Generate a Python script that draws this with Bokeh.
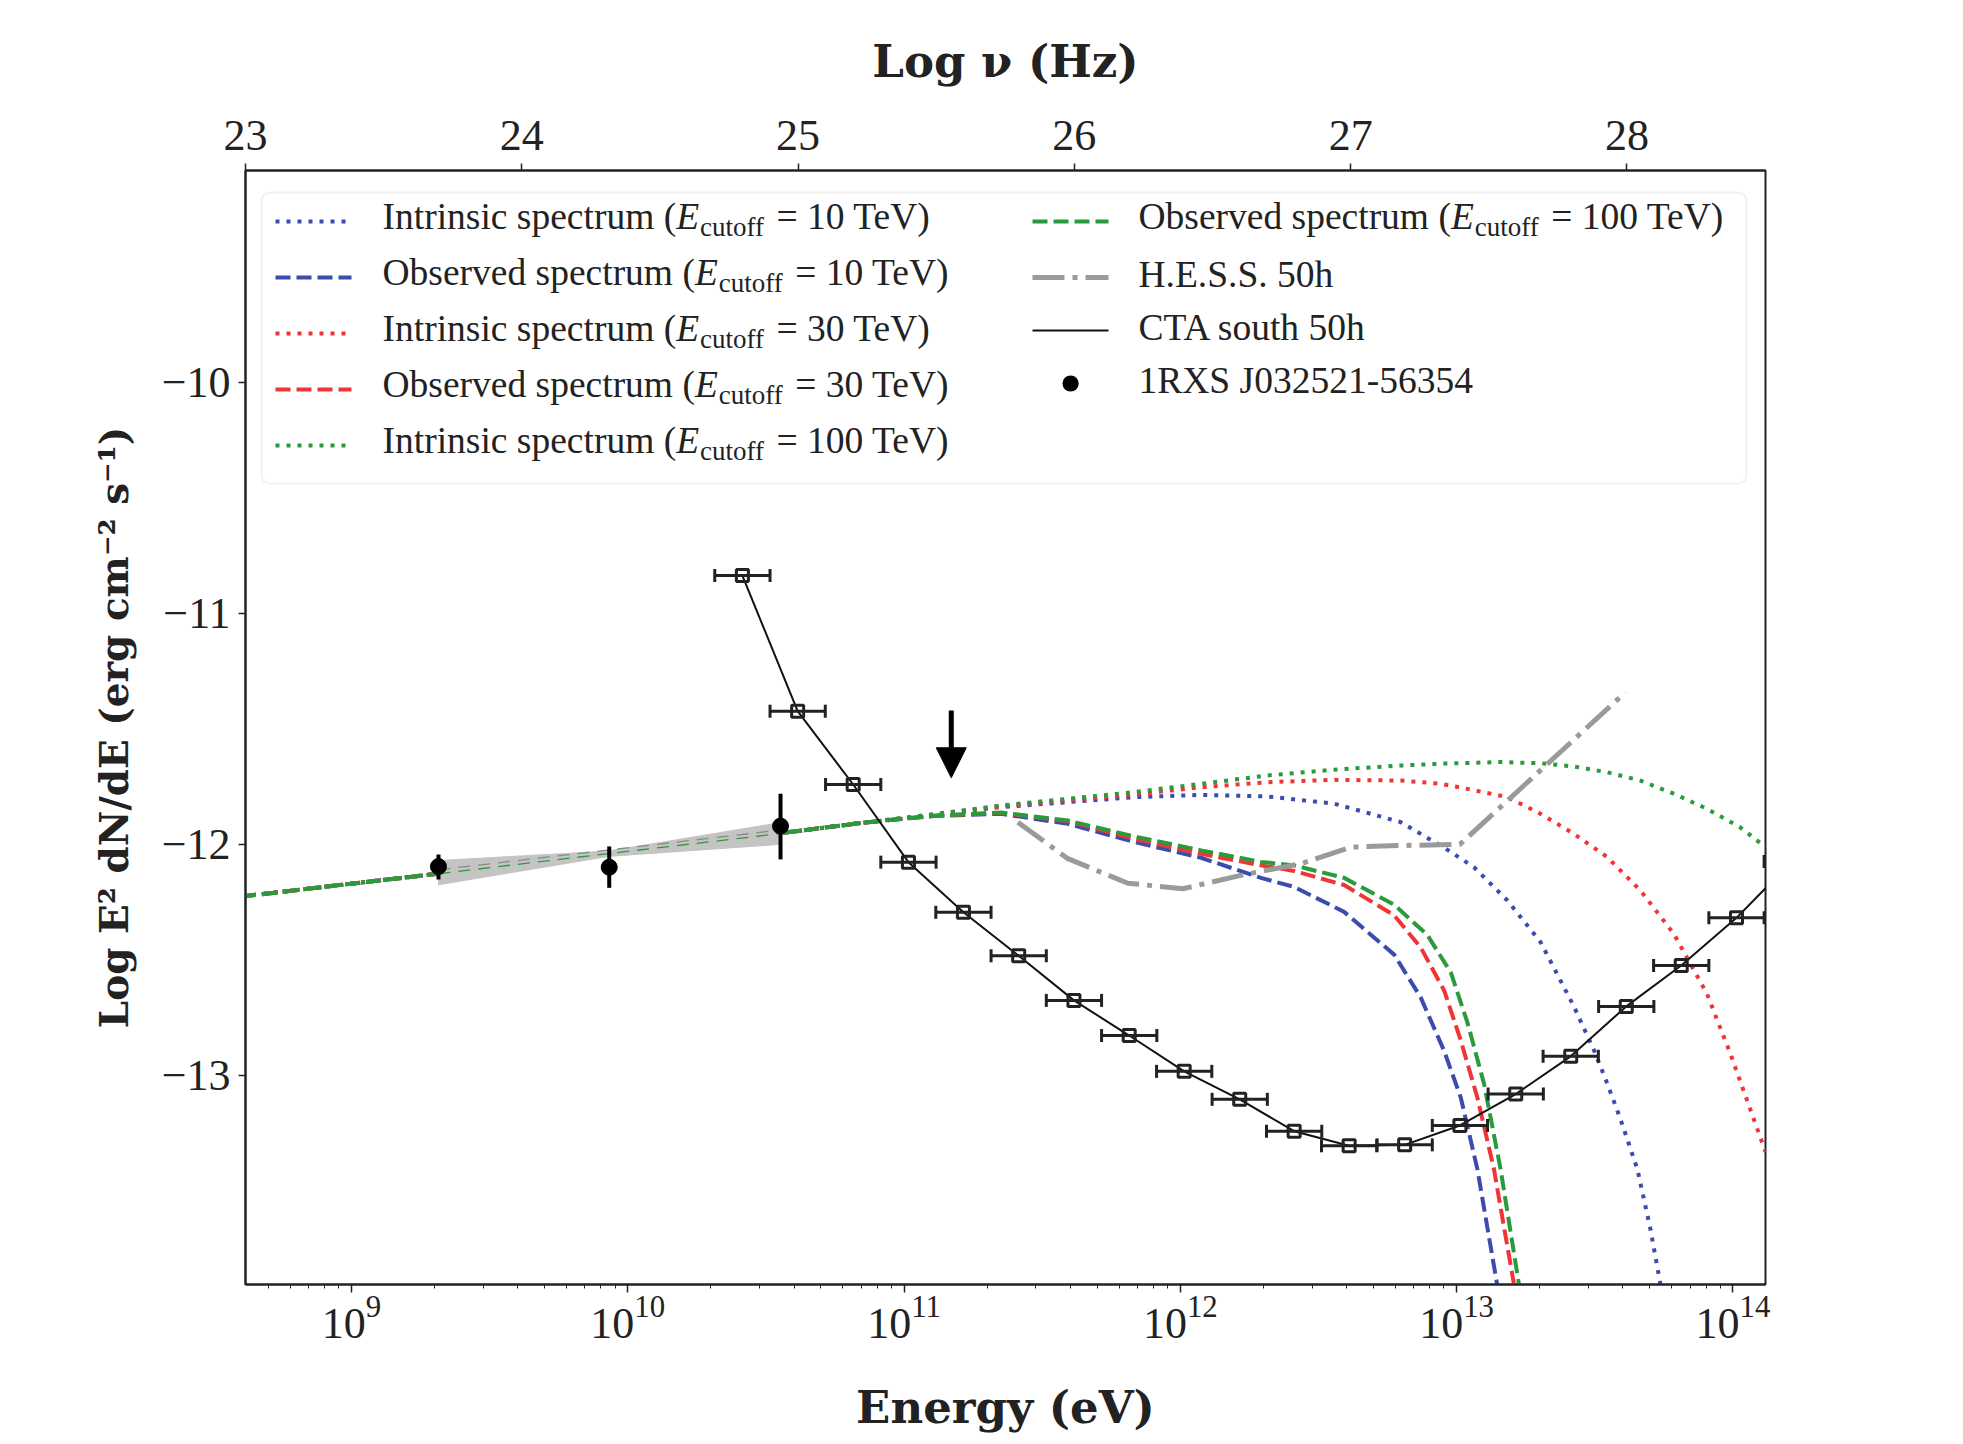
import math

from bokeh.embed import file_html
from bokeh.models import (Arrow, BoxAnnotation, ColumnDataSource, CustomJSTickFormatter,
                          FixedTicker, Label, LinearAxis, LinearScale, NormalHead, Range1d,
                          TeeHead, Whisker)
from bokeh.plotting import figure
from bokeh.resources import INLINE

# ---------------------------------------------------------------------------
# Data: x values are log10(E / eV), y values are log10(E^2 dN/dE / erg cm^-2 s^-1)
# ---------------------------------------------------------------------------
LOG_H_EV_S = math.log10(4.135667696e-15)      # log nu = log E - log h
NU_MIN = 23.0
LOGE_MIN, LOGE_MAX = NU_MIN + LOG_H_EV_S, 14.118
Y_MIN, Y_MAX = -13.904, -9.085

# low-energy part shared by all six model spectra
base_logE = [8.6, 9.0, 9.315, 9.93, 10.47, 10.55, 10.87]
base_val = [-12.226, -12.170, -12.127, -12.040, -11.965, -11.952, -11.904]

# intrinsic spectra (high-energy part)
intr10_logE = [11.11, 11.35, 11.834, 12.075, 12.316, 12.557, 12.798, 12.961, 13.063, 13.184,
               13.304, 13.424, 13.497, 13.545, 13.593, 13.654, 13.702, 13.738, 13.76]
intr10_val = [-11.872, -11.839, -11.796, -11.786, -11.793, -11.824, -11.904, -12.019, -12.099,
              -12.243, -12.423, -12.700, -12.890, -13.034, -13.188, -13.404, -13.667, -13.906,
              -14.05]
intr30_logE = [11.11, 11.35, 11.834, 12.075, 12.316, 12.557, 12.798, 12.943, 13.039, 13.184,
               13.304, 13.424, 13.545, 13.665, 13.786, 13.906, 13.991, 14.118]
intr30_val = [-11.871, -11.836, -11.784, -11.753, -11.731, -11.721, -11.724, -11.738, -11.760,
              -11.796, -11.868, -11.954, -12.055, -12.199, -12.387, -12.646, -12.906, -13.330]
intr100_logE = [11.11, 11.35, 11.834, 12.075, 12.316, 12.557, 12.798, 12.943, 13.159, 13.304,
                13.424, 13.545, 13.665, 13.786, 13.906, 14.026, 14.118]
intr100_val = [-11.869, -11.832, -11.774, -11.738, -11.702, -11.677, -11.659, -11.651, -11.644,
               -11.649, -11.663, -11.688, -11.724, -11.781, -11.846, -11.926, -12.012]

# observed (EBL-absorbed) spectra (high-energy part)
obs10_logE = [11.11, 11.35, 11.593, 11.834, 12.075, 12.292, 12.412, 12.593, 12.774, 12.870,
              12.955, 13.015, 13.075, 13.147, 13.168]
obs10_val = [-11.877, -11.868, -11.911, -11.990, -12.058, -12.145, -12.184, -12.292, -12.477,
             -12.662, -12.894, -13.095, -13.404, -13.906, -14.05]
obs30_logE = [11.11, 11.35, 11.593, 11.834, 12.075, 12.292, 12.412, 12.593, 12.774, 12.870,
              12.955, 13.015, 13.075, 13.135, 13.208, 13.229]
obs30_val = [-11.876, -11.864, -11.900, -11.976, -12.041, -12.091, -12.115, -12.176, -12.307,
             -12.446, -12.632, -12.848, -13.095, -13.404, -13.906, -14.05]
obs100_logE = [11.11, 11.35, 11.593, 11.834, 12.075, 12.292, 12.412, 12.593, 12.774, 12.894,
               12.979, 13.039, 13.099, 13.159, 13.226, 13.245]
obs100_val = [-11.876, -11.862, -11.897, -11.966, -12.026, -12.076, -12.091, -12.145, -12.261,
              -12.392, -12.554, -12.770, -13.034, -13.404, -13.906, -14.05]

# H.E.S.S. 50 h sensitivity
hess_logE = [11.412, 11.593, 11.810, 12.009, 12.219, 12.436, 12.617, 12.798, 13.012, 13.611]
hess_val = [-11.904, -12.062, -12.168, -12.192, -12.134, -12.084, -12.012, -12.005, -12.000,
            -11.342]

# CTA south 50 h differential sensitivity (bin centres, half-width 0.1 dex)
cta_logE = [10.415, 10.615, 10.816, 11.016, 11.215, 11.415, 11.615, 11.815, 12.014, 12.215,
            12.412, 12.611, 12.812, 13.012, 13.214, 13.413, 13.614, 13.813, 14.013, 14.213]
cta_val = [-10.837, -11.424, -11.741, -12.077, -12.294, -12.482, -12.675, -12.827, -12.982,
           -13.103, -13.241, -13.304, -13.300, -13.216, -13.080, -12.917, -12.701, -12.524,
           -12.318, -12.074]
cta_half_bin = 0.1

# Fermi-LAT points of 1RXS J032521-56354
fermi_logE = [9.315, 9.933, 10.553]
fermi_val = [-12.096, -12.099, -11.921]
fermi_lo = [-12.152, -12.188, -12.065]
fermi_hi = [-12.044, -12.009, -11.781]

# Fermi-LAT butterfly and best-fit power law
bowtie_logE = [9.315, 9.93, 10.553]
bowtie_upper = [-12.070, -12.029, -11.906]
bowtie_lower = [-12.175, -12.052, -12.000]
fit_logE = [9.315, 10.553]
fit_val = [-12.110, -11.938]
model_thin_logE = [9.315, 9.93, 10.47, 10.553]
model_thin_val = [-12.127, -12.040, -11.965, -11.952]

# energy marker
arrow_logE = 11.171
arrow_from, arrow_to = -11.421, -11.712

nu_ticks = [23, 24, 25, 26, 27, 28]
y_ticks = [-13, -12, -11, -10]

# ---------------------------------------------------------------------------
BLUE, RED, GREEN = "#3b4cad", "#ef3535", "#2a9a3c"
GREY, INK = "#9a9a9a", "#222222"
DOT, DASH, DASHDOT = "4 7", "15 6", "32 8 5 8"
SERIF, BOLD_SERIF = "Liberation Serif", "DejaVu Serif"


def energy(logs):
    return [10 ** v for v in logs]


FRAME_LEFT, FRAME_RIGHT, FRAME_TOP, FRAME_BOTTOM = 245, 1765, 170, 1284
W, H = 1963, 1444

p = figure(width=W, height=H, x_axis_type="log",
           x_range=Range1d(10 ** LOGE_MIN, 10 ** LOGE_MAX), y_range=Range1d(Y_MIN, Y_MAX),
           output_backend="svg", toolbar_location=None,
           min_border_left=FRAME_LEFT, min_border_right=W - FRAME_RIGHT,
           min_border_top=FRAME_TOP, min_border_bottom=H - FRAME_BOTTOM,
           background_fill_color="white", border_fill_color="white")
p.grid.visible = False
p.outline_line_color = INK
p.outline_line_width = 2

# top axis: frequency, linear in log nu
p.extra_x_ranges = {"nu": Range1d(NU_MIN, LOGE_MAX - LOG_H_EV_S)}
p.extra_x_scales = {"nu": LinearScale()}
top = LinearAxis(x_range_name="nu", ticker=FixedTicker(ticks=nu_ticks), axis_label="Log ν (Hz)")
p.add_layout(top, "above")

bottom = p.below[0]
left = p.left[0]
bottom.axis_label = "Energy (eV)"
left.axis_label = "Log E² dN/dE (erg cm⁻² s⁻¹)"
left.ticker = FixedTicker(ticks=y_ticks)
left.formatter = CustomJSTickFormatter(
    code="return (tick < 0 ? '\\u2212' : '') + Math.abs(tick).toFixed(0);")

for ax in (bottom, left, top):
    ax.axis_line_color = INK
    ax.axis_line_width = 2
    ax.major_tick_line_color = INK
    ax.major_tick_line_width = 1.5
    ax.minor_tick_line_color = INK
    ax.major_tick_in = 0
    ax.minor_tick_in = 0
    ax.major_label_text_font = SERIF
    ax.major_label_text_font_size = "44px"
    ax.major_label_text_color = INK
    ax.axis_label_text_font = BOLD_SERIF
    ax.axis_label_text_font_style = "bold"
    ax.axis_label_text_color = INK
    ax.axis_label_text_font_size = "45px"

bottom.major_tick_out = 8
bottom.minor_tick_out = 4
bottom.major_label_standoff = 4
bottom.axis_label_standoff = 40
left.major_tick_out = 7
left.minor_tick_out = 0
left.major_label_standoff = 8
left.axis_label_standoff = 22
left.axis_label_text_font_size = "39px"
top.major_tick_out = 7
top.minor_tick_out = 0
top.major_label_standoff = 14
top.axis_label_standoff = 30

# model spectra
models = [
    (intr10_logE, intr10_val, BLUE, DOT),
    (obs10_logE, obs10_val, BLUE, DASH),
    (intr30_logE, intr30_val, RED, DOT),
    (obs30_logE, obs30_val, RED, DASH),
    (intr100_logE, intr100_val, GREEN, DOT),
    (obs100_logE, obs100_val, GREEN, DASH),
]
for le, val, color, dash in models:
    p.line(energy(base_logE + le), base_val + val, line_color=color, line_width=4,
           line_dash=dash, line_cap="butt")

# H.E.S.S. sensitivity
p.line(energy(hess_logE), hess_val, line_color=GREY, line_width=5, line_dash=DASHDOT)

# CTA sensitivity with bin widths
cta = ColumnDataSource(dict(
    x=energy(cta_logE), y=cta_val,
    lo=energy([v - cta_half_bin for v in cta_logE]),
    hi=energy([v + cta_half_bin for v in cta_logE])))
p.line("x", "y", source=cta, line_color="#111111", line_width=2)
p.add_layout(Whisker(source=cta, base="y", lower="lo", upper="hi", dimension="width",
                     line_color=INK, line_width=3, level="glyph",
                     lower_head=TeeHead(size=13, line_color=INK, line_width=3),
                     upper_head=TeeHead(size=13, line_color=INK, line_width=3)))
p.scatter("x", "y", source=cta, marker="square", size=12, fill_alpha=0,
          line_color=INK, line_width=3)

# Fermi butterfly, fits and points
bx = energy(bowtie_logE)
p.patch(bx + bx[::-1], bowtie_upper + bowtie_lower[::-1], fill_color="#c4c4c4",
        line_color="#c4c4c4", line_width=1)
p.line(energy(model_thin_logE), model_thin_val, line_color=GREEN, line_width=1.3,
       line_dash="12 8")
p.line(energy(fit_logE), fit_val, line_color="#8a8a8a", line_width=1.3, line_dash="12 8")
p.segment(x0=energy(fermi_logE), y0=fermi_lo, x1=energy(fermi_logE), y1=fermi_hi,
          line_color="black", line_width=4)
p.scatter(energy(fermi_logE), fermi_val, marker="circle", size=16, color="black")

p.add_layout(Arrow(x_start=10 ** arrow_logE, y_start=arrow_from,
                   x_end=10 ** arrow_logE, y_end=arrow_to, line_color="black", line_width=5,
                   end=NormalHead(size=30, fill_color="black", line_color="black")))

# ---------------------------------------------------------------------------
# Legend (built by hand so the E_cutoff subscripts can be typeset)
# ---------------------------------------------------------------------------
TIMES_WIDTH = {"I": 333, "n": 500, "t": 278, "r": 333, "i": 278, "s": 389, "c": 444, " ": 250,
               "p": 500, "e": 444, "u": 500, "m": 778, "(": 333, "O": 722, "b": 500, "v": 500,
               "d": 500, "o": 500, "f": 333}
ITALIC_E = 611
LEG_SIZE, SUB_SIZE = 37.5, 27


def text_width(s, size):
    return sum(TIMES_WIDTH[ch] for ch in s) / 1000 * size


def sx(x):
    return x - FRAME_LEFT


def sy(y):
    return FRAME_BOTTOM - y


def legend_text(x, y, text, size=LEG_SIZE, style="normal"):
    p.add_layout(Label(x=sx(x), y=sy(y), x_units="screen", y_units="screen", text=text,
                       text_font=SERIF, text_font_size=f"{size}px", text_font_style=style,
                       text_color=INK, text_baseline="middle", text_align="left"))


def legend_cutoff(x, y, prefix, tev):
    legend_text(x, y - 5, prefix)
    ex = x + text_width(prefix, LEG_SIZE)
    legend_text(ex, y - 5, "E", style="italic")
    cx = ex + ITALIC_E / 1000 * LEG_SIZE + 1
    legend_text(cx, y + 5, "cutoff", size=SUB_SIZE)
    qx = cx + text_width("cutoff", SUB_SIZE) + 12
    legend_text(qx, y - 5, f"= {tev} TeV)")


def legend_sample(x0, x1, y, **line):
    p.add_layout(Arrow(x_start=sx(x0), y_start=sy(y), x_end=sx(x1), y_end=sy(y),
                       start_units="screen", end_units="screen", start=None, end=None, **line))


p.add_layout(BoxAnnotation(left=sx(261), right=sx(1746), top=sy(192), bottom=sy(483),
                           left_units="screen", right_units="screen", top_units="screen",
                           bottom_units="screen", fill_color="white", fill_alpha=0.9,
                           line_color="#cfcfcf", line_width=2, border_radius=8))

col1_rows = [221, 277, 333, 389, 445]
col1_items = [("Intrinsic spectrum (", "10", BLUE, DOT), ("Observed spectrum (", "10", BLUE, DASH),
              ("Intrinsic spectrum (", "30", RED, DOT), ("Observed spectrum (", "30", RED, DASH),
              ("Intrinsic spectrum (", "100", GREEN, DOT)]
for row, (prefix, tev, color, dash) in zip(col1_rows, col1_items):
    legend_sample(275, 351, row, line_color=color, line_width=4, line_dash=dash, line_cap="butt")
    legend_cutoff(382, row, prefix, tev)

col2_rows = [221, 277, 330, 383]
legend_sample(1032, 1108, col2_rows[0], line_color=GREEN, line_width=4, line_dash=DASH,
              line_cap="butt")
legend_cutoff(1138, col2_rows[0], "Observed spectrum (", "100")
legend_sample(1032, 1108, col2_rows[1], line_color=GREY, line_width=5, line_dash=DASHDOT,
              line_cap="butt")
legend_text(1138, col2_rows[1] - 3, "H.E.S.S. 50h")
legend_sample(1032, 1108, col2_rows[2], line_color="#111111", line_width=2)
legend_text(1138, col2_rows[2] - 3, "CTA south 50h")
legend_sample(1070, 1070.2, col2_rows[3], line_color="black", line_width=16, line_cap="round")
legend_text(1138, col2_rows[3] - 3, "1RXS J032521-56354")

open("out.html", "w").write(file_html(p, INLINE))
